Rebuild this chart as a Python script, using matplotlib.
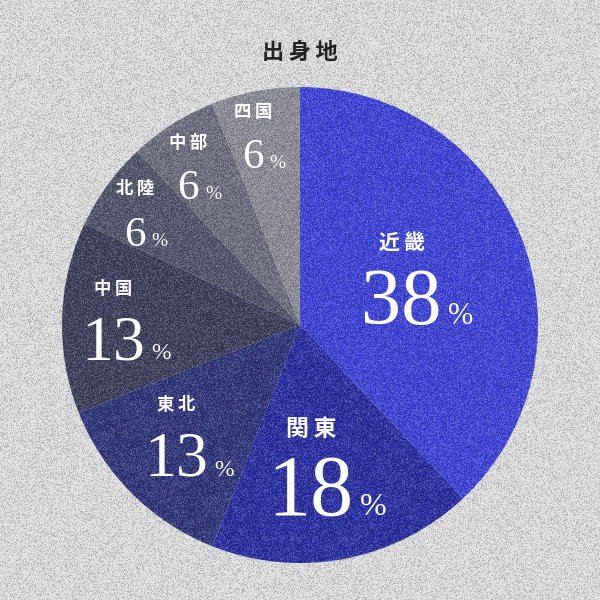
import numpy as np
import matplotlib
matplotlib.use("Agg")
import matplotlib.pyplot as plt

plt.rcParams['font.family'] = ['Noto Sans CJK JP', 'DejaVu Sans']

regions = ["近畿", "関東", "東北", "中国", "北陸", "中部", "四国"]
shares = [38, 18, 13, 13, 6, 6, 6]
colors = ["#3d43da", "#292fa4", "#30357b", "#3c3e5b", "#52556b", "#6d6e80", "#8e8e9a"]

# layout per slice: label distance (fraction of radius), number size, label size (pt)
label_r = [0.53, 0.61, 0.66, 0.73, 0.80, 0.79, 0.81]
num_size = [58, 62, 46, 46, 31, 31, 31]
pct_size = [22, 23, 17, 17, 14, 14, 14]
name_size = [15, 16.5, 12.5, 12.5, 12.5, 12.5, 12.5]

R = 238
cx, cy = 300, 275

fig = plt.figure(figsize=(6, 6), dpi=100)
fig.patch.set_facecolor("#e0e0e0")
ax = fig.add_axes([0, 0, 1, 1])
wedges, _ = ax.pie(shares, colors=colors, startangle=90, counterclock=False,
                   center=(cx, cy), radius=R, wedgeprops=dict(linewidth=0))
ax.set_xlim(0, 600)
ax.set_ylim(0, 600)
ax.set_aspect("equal")
ax.axis("off")

# film grain: random black/white specks at low opacity, under the text
rng = np.random.default_rng(3)
grain = np.zeros((600, 600, 4))
light = rng.random((600, 600)) > 0.5
grain[..., :3] = light[..., None].astype(float)
grain[..., 3] = rng.uniform(0, 0.22, (600, 600))
ax.imshow(grain, extent=(0, 600, 0, 600), zorder=2, interpolation="nearest")
ax.set_xlim(0, 600)
ax.set_ylim(0, 600)

ax.text(300, 548, "\u2009".join("出身地"), ha="center", va="center", fontsize=16,
        fontweight="bold", color="#222222", zorder=3)

fig.canvas.draw()
renderer = fig.canvas.get_renderer()

for w, name, val, rf, ns, ps, ls in zip(wedges, regions, shares, label_r,
                                         num_size, pct_size, name_size):
    ang = np.deg2rad((w.theta1 + w.theta2) / 2)
    gx = cx + rf * R * np.cos(ang)
    gy = cy + rf * R * np.sin(ang)
    h = 0.66 * ns / 0.72
    base = gy - (h + 37) / 2

    num = ax.text(0, base, str(val), ha="left", va="baseline", fontsize=ns,
                  family="Liberation Serif", color="white", zorder=3)
    pct = ax.text(0, base, "%", ha="left", va="baseline", fontsize=ps,
                  family="Liberation Serif", color="white", zorder=3)
    nw = num.get_window_extent(renderer).width
    pw = pct.get_window_extent(renderer).width
    gap = 6
    left = gx - (nw + gap + pw) / 2
    num.set_x(left)
    pct.set_x(left + nw + gap)

    ax.text(left + nw / 2, base + h + 28, "\u2009".join(name), ha="center",
            va="center", fontsize=ls, fontweight="bold", color="white", zorder=3)

fig.savefig("out.png", dpi=100)
